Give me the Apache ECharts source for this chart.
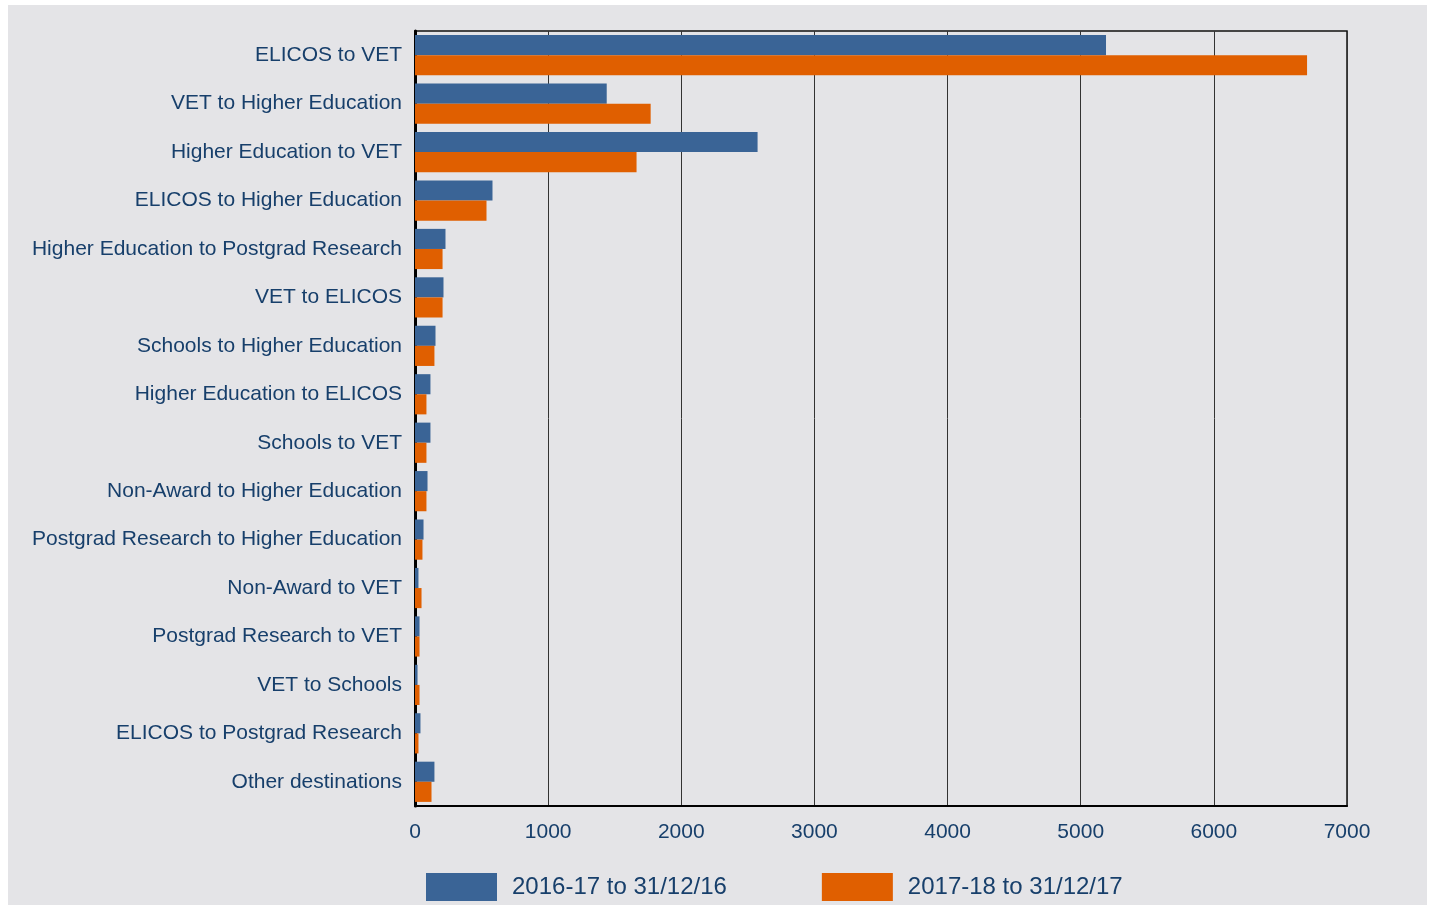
<!DOCTYPE html>
<html>
<head>
<meta charset="utf-8">
<script src="https://cdn.jsdelivr.net/npm/echarts@6/dist/echarts.min.js"></script>
<style>
  html, body { margin: 0; padding: 0; background: #ffffff; }
  #chart { width: 1430px; height: 905px; }
</style>
</head>
<body>
<div id="chart"></div>
<script>
// Student movements by destination pathway
const categories = [
  'ELICOS to VET',
  'VET to Higher Education',
  'Higher Education to VET',
  'ELICOS to Higher Education',
  'Higher Education to Postgrad Research',
  'VET to ELICOS',
  'Schools to Higher Education',
  'Higher Education to ELICOS',
  'Schools to VET',
  'Non-Award to Higher Education',
  'Postgrad Research to Higher Education',
  'Non-Award to VET',
  'Postgrad Research to VET',
  'VET to Schools',
  'ELICOS to Postgrad Research',
  'Other destinations'
];
const series2016 = [5190, 1440, 2573, 582, 229, 214, 154, 116, 116, 94, 64, 26, 34, 19, 41, 146];
const series2017 = [6700, 1770, 1664, 537, 207, 207, 146, 86, 86, 86, 56, 49, 34, 34, 26, 124];
const seriesNames = ['2016-17 to 31/12/16', '2017-18 to 31/12/17'];
const xTicks = { min: 0, max: 7000, interval: 1000 };

const textBlue = '#173f6b';
const chart = echarts.init(document.getElementById('chart'), null, { renderer: 'canvas' });

chart.setOption({
  backgroundColor: '#ffffff',
  animation: false,
  textStyle: { fontFamily: 'Liberation Sans, Arial, sans-serif' },
  graphic: [{
    type: 'rect',
    z: -10,
    silent: true,
    shape: { x: 8, y: 5, width: 1419, height: 900 },
    style: { fill: '#e4e4e7' }
  }],
  grid: {
    left: 415, right: 83, top: 31, bottom: 99,
    show: true, borderColor: '#111', borderWidth: 1.5, backgroundColor: 'transparent'
  },
  legend: {
    left: 421, top: 868,
    itemWidth: 71, itemHeight: 28, itemGap: 95,
    icon: 'rect',
    textStyle: { fontSize: 24, color: textBlue, padding: [0, 0, 0, 10] },
    data: seriesNames
  },
  xAxis: {
    type: 'value',
    min: xTicks.min, max: xTicks.max, interval: xTicks.interval,
    axisLine: { show: true, lineStyle: { color: '#000', width: 2 } },
    axisTick: { show: false },
    axisLabel: { fontSize: 21, color: textBlue, margin: 16, formatter: v => String(v) },
    splitLine: { show: true, lineStyle: { color: '#333', width: 1 } }
  },
  yAxis: {
    type: 'category',
    inverse: true,
    data: categories,
    axisLine: { show: true, lineStyle: { color: '#000', width: 3 } },
    axisTick: { show: false },
    axisLabel: { fontSize: 21, color: textBlue, margin: 13, padding: [6, 0, 0, 0] }
  },
  series: [
    {
      name: seriesNames[0], type: 'bar', data: series2016,
      itemStyle: { color: '#3a6496' },
      barGap: '0%', barCategoryGap: '17%'
    },
    {
      name: seriesNames[1], type: 'bar', data: series2017,
      itemStyle: { color: '#e05f00' },
      barGap: '0%', barCategoryGap: '17%'
    }
  ]
});
</script>
</body>
</html>
